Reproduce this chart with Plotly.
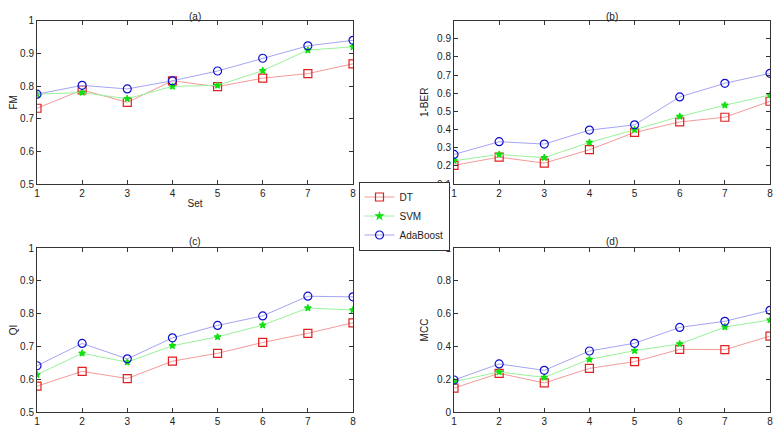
import plotly.graph_objects as go

sets = [1, 2, 3, 4, 5, 6, 7, 8]
methods = ["DT", "SVM", "AdaBoost"]

fm_dt = [0.732, 0.788, 0.750, 0.816, 0.798, 0.824, 0.838, 0.868]
fm_svm = [0.775, 0.780, 0.761, 0.799, 0.802, 0.847, 0.910, 0.920]
fm_ada = [0.775, 0.802, 0.791, 0.816, 0.846, 0.885, 0.923, 0.940]

ber_dt = [0.203, 0.248, 0.215, 0.289, 0.384, 0.442, 0.468, 0.556]
ber_svm = [0.228, 0.263, 0.245, 0.329, 0.399, 0.472, 0.534, 0.591]
ber_ada = [0.263, 0.333, 0.320, 0.397, 0.426, 0.580, 0.655, 0.710]

qi_dt = [0.579, 0.624, 0.602, 0.655, 0.679, 0.712, 0.740, 0.772]
qi_svm = [0.614, 0.679, 0.652, 0.702, 0.729, 0.765, 0.817, 0.811]
qi_ada = [0.641, 0.709, 0.662, 0.726, 0.764, 0.793, 0.853, 0.851]

mcc_dt = [0.146, 0.236, 0.177, 0.266, 0.307, 0.382, 0.380, 0.463]
mcc_svm = [0.185, 0.244, 0.211, 0.321, 0.374, 0.415, 0.518, 0.561]
mcc_ada = [0.195, 0.293, 0.254, 0.372, 0.419, 0.516, 0.553, 0.620]

panel_titles = ["(a)", "(b)", "(c)", "(d)"]
y_titles = ["FM", "1-BER", "QI", "MCC"]

line_colors = ["#f39a9a", "#9af29a", "#a4a4f2"]
marker_colors = ["#e02020", "#10e010", "#1010d0"]
symbols = ["square-open", "star", "circle-open"]
msizes = [8, 5, 8]

panels = [
    (fm_dt, fm_svm, fm_ada),
    (ber_dt, ber_svm, ber_ada),
    (qi_dt, qi_svm, qi_ada),
    (mcc_dt, mcc_svm, mcc_ada),
]

# page has an 8px body margin at top/left
OFF = 8
W, H = 784 - OFF, 433 - OFF


def fx(px):
    return (px - OFF) / W


def fy(py):
    return 1 - (py - OFF) / H


xdoms = [(fx(37), fx(353)), (fx(454), fx(770))]
ydoms = [(fy(184), fy(20.7)), (fy(412), fy(248))]
title_y = [fy(8.5), fy(234)]

fig = go.Figure()
font = "Liberation Sans, Arial, sans-serif"
tcol = "#222"

yranges = [[0.5, 1.0], [0.1, 1.0], [0.5, 1.0], [0.0, 1.0]]
ytickvals = [
    [0.5, 0.6, 0.7, 0.8, 0.9, 1.0],
    [0.1, 0.2, 0.3, 0.4, 0.5, 0.6, 0.7, 0.8, 0.9],
    [0.5, 0.6, 0.7, 0.8, 0.9, 1.0],
    [0.0, 0.2, 0.4, 0.6, 0.8, 1.0],
]
yticktext = [
    ["0.5", "0.6", "0.7", "0.8", "0.9", "1"],
    ["0.1", "0.2", "0.3", "0.4", "0.5", "0.6", "0.7", "0.8", "0.9"],
    ["0.5", "0.6", "0.7", "0.8", "0.9", "1"],
    ["0", "0.2", "0.4", "0.6", "0.8", "1"],
]

for p, series in enumerate(panels):
    idx = "" if p == 0 else str(p + 1)
    for m, vals in enumerate(series):
        fig.add_trace(go.Scatter(
            x=sets, y=vals, mode="lines+markers", name=methods[m],
            xaxis="x" + idx, yaxis="y" + idx,
            showlegend=(p == 0),
            line=dict(color=line_colors[m], width=1),
            marker=dict(symbol=symbols[m], size=msizes[m], color=marker_colors[m],
                        line=dict(color=marker_colors[m], width=1.2)),
        ))
    col, row = p % 2, p // 2
    axis_common = dict(showline=True, linecolor="#333", linewidth=1, mirror="allticks",
                       ticks="inside", ticklen=4, tickcolor="#333", showgrid=False,
                       zeroline=False, automargin=False,
                       tickfont=dict(size=10, color=tcol, family=font))
    fig.update_layout(**{
        "xaxis" + idx: dict(domain=xdoms[col], anchor="y" + idx, range=[1, 8],
                            tickvals=sets, **axis_common,
                            title=dict(text="Set" if p == 0 else "", font=dict(size=10, family=font, color=tcol), standoff=1)),
        "yaxis" + idx: dict(domain=ydoms[row], anchor="x" + idx, range=yranges[p],
                            tickvals=ytickvals[p], ticktext=yticktext[p], **axis_common,
                            title=dict(text=y_titles[p], font=dict(size=10, family=font, color=tcol), standoff=6)),
    })
    fig.add_annotation(text=panel_titles[p], xref="paper", yref="paper",
                       x=(xdoms[col][0] + xdoms[col][1]) / 2, y=title_y[row],
                       xanchor="center", yanchor="top", showarrow=False,
                       font=dict(size=10, family=font, color=tcol))

fig.update_layout(
    width=W, height=H, margin=dict(l=0, r=0, t=0, b=0, pad=0, autoexpand=False),
    paper_bgcolor="white", plot_bgcolor="white",
    legend=dict(x=fx(404), y=fy(216), xanchor="center", yanchor="middle",
                bordercolor="#333", borderwidth=1, bgcolor="white", itemwidth=30,
                font=dict(size=10, family=font, color=tcol), tracegroupgap=0),
    font=dict(family=font),
)

fig.write_html("out.html")
